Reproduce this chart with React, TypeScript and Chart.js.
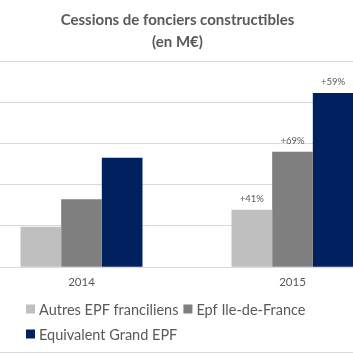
import React, { useEffect, useRef } from "react";
import { Chart, registerables } from "chart.js";

Chart.register(...registerables);

const categories = ["2014", "2015"];
const seriesNames = ["Autres EPF franciliens", "Epf Ile-de-France", "Equivalent Grand EPF"];
const autresEpf = [19.6, 27.9];
const epfIdf = [32.9, 56.0];
const grandEpf = [53.1, 84.5];
const growthLabels = ["+41%", "+69%", "+59%"];
const titleLines = ["Cessions de fonciers constructibles", "(en M€)"];
const colors = ["#bfbfbf", "#7f7f7f", "#002060"];

const OFFSET = 24; // canvas shifted left (crop of a wider chart)
const CW = 422;
const CH = 353;
const TEXT = "#595959";
const FONT = "Lato, 'Open Sans', sans-serif";

const decorPlugin = {
  id: "decor",
  afterDraw(chart: any) {
    const ctx = chart.ctx;
    ctx.save();
    // title
    ctx.fillStyle = TEXT;
    ctx.textAlign = "center";
    ctx.textBaseline = "middle";
    ctx.font = `bold 15px ${FONT}`;
    ctx.fillText(titleLines[0], 177.5 + OFFSET, 20);
    ctx.fillText(titleLines[1], 177.5 + OFFSET, 42);
    // growth labels above 2015 bars
    ctx.font = `9.5px ${FONT}`;
    chart.data.datasets.forEach((ds: any, i: number) => {
      const meta = chart.getDatasetMeta(i);
      const el = meta.data[1];
      if (el) ctx.fillText(growthLabels[i], el.x, el.y - 11);
    });
    // legend
    ctx.textAlign = "left";
    ctx.font = `14.5px ${FONT}`;
    const rowY = [309, 334];
    let x = 26 + OFFSET;
    const rows = [0, 0, 1];
    rows.forEach((row, i) => {
      if (i === 2) x = 26 + OFFSET;
      const y = rowY[row];
      ctx.fillStyle = colors[i];
      ctx.fillRect(x, y - 4.5, 9, 9);
      ctx.fillStyle = TEXT;
      ctx.fillText(seriesNames[i], x + 13, y + 1);
      x += 13 + ctx.measureText(seriesNames[i]).width + 5;
    });
    // bottom frame line
    ctx.strokeStyle = "#d9d9d9";
    ctx.lineWidth = 1;
    ctx.beginPath();
    ctx.moveTo(0, 352.5);
    ctx.lineTo(CW, 352.5);
    ctx.stroke();
    ctx.restore();
  },
};

export default function App() {
  const ref = useRef<HTMLCanvasElement>(null);
  useEffect(() => {
    if (!ref.current) return;
    const values = [autresEpf, epfIdf, grandEpf];
    const chart = new Chart(ref.current, {
      type: "bar",
      data: {
        labels: categories,
        datasets: seriesNames.map((name, i) => ({
          label: name,
          data: values[i],
          backgroundColor: colors[i],
          borderWidth: 0,
          barPercentage: 1,
          categoryPercentage: 0.578,
        })),
      },
      options: {
        responsive: false,
        animation: false,
        layout: { padding: { top: 61, bottom: 56, left: 0, right: 0 } },
        plugins: {
          legend: { display: false },
          title: { display: false },
          tooltip: { enabled: false },
        },
        scales: {
          x: {
            grid: { display: false, drawTicks: false },
            border: { display: false },
            ticks: { color: TEXT, font: { family: FONT, size: 11.5 }, padding: 8 },
          },
          y: {
            min: 0,
            max: 100,
            ticks: { display: false, stepSize: 20 },
            border: { display: false },
            grid: { color: "#d9d9d9", drawTicks: false },
          },
        },
      },
      plugins: [decorPlugin],
    });
    return () => chart.destroy();
  }, []);
  return (
    <div style={{ position: "fixed", left: 0, top: 0, width: 353, height: 353, overflow: "hidden", background: "#fff" }}>
      <canvas ref={ref} width={CW} height={CH} style={{ position: "absolute", left: -OFFSET, top: 0, width: CW, height: CH }} />
    </div>
  );
}
